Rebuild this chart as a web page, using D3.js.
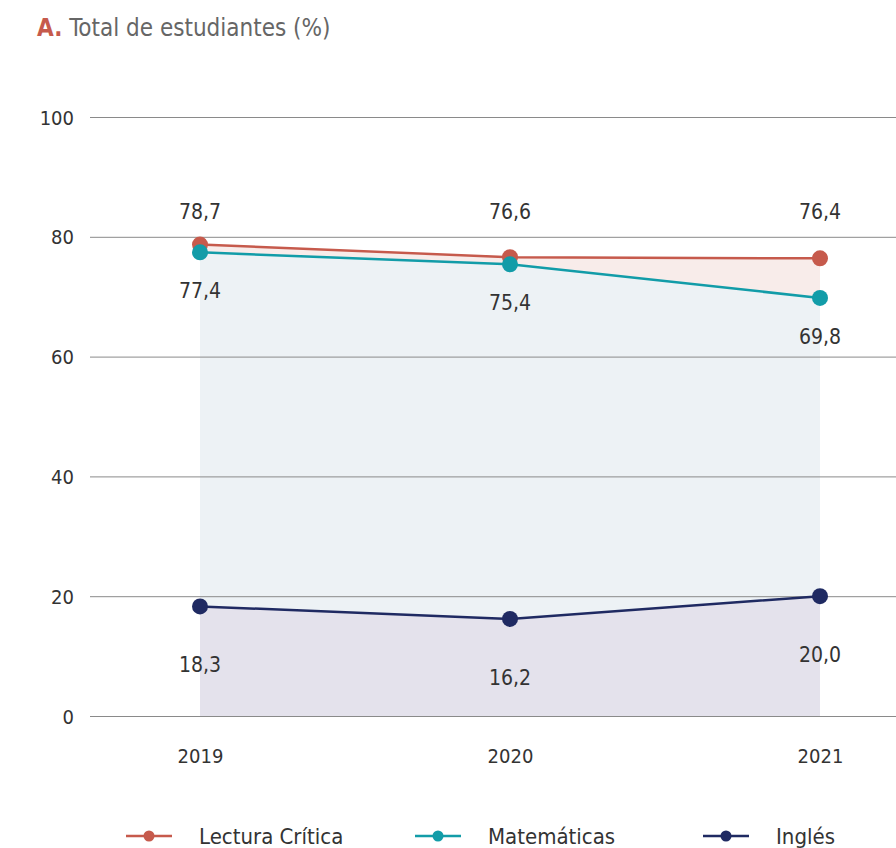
<html>
<head>
<meta charset="utf-8">
<style>
  body { margin:0; background:#fff; }
  text { font-family:'Liberation Sans Narrow','DejaVu Sans Condensed','Roboto',sans-serif; }
</style>
</head>
<body>
<div id="chart"></div>
<script src="https://cdn.jsdelivr.net/npm/d3@7/dist/d3.min.js"></script>
<script>
// data
var years = ["2019", "2020", "2021"];
var lectura = [78.7, 76.6, 76.4];
var matematicas = [77.4, 75.4, 69.8];
var ingles = [18.3, 16.2, 20.0];
var yTicks = [0, 20, 40, 60, 80, 100];
var seriesNames = ["Lectura Crítica", "Matemáticas", "Inglés"];

var W = 896, H = 848;
var colors = ["#c65a4c", "#129ca8", "#1f2a62"];
var fills = ["#f8ecea", "#edf2f5", "#e4e2ec"];

var svg = d3.select("#chart").append("svg")
    .attr("width", W).attr("height", H);

var x = d3.scalePoint().domain(years).range([200, 820]);
var y = d3.scaleLinear().domain([0, 100]).range([716, 117]);

// title
var title = svg.append("text").attr("x", 37).attr("y", 36)
    .style("font-size", "24px").attr("fill", "#666");
title.append("tspan").text("A.").attr("fill", "#c65a4c").style("font-weight", "bold");
title.append("tspan").text(" Total de estudiantes (%)");

// areas
function areaBetween(top, bottom) {
    return d3.area()
        .x(function(d, i) { return x(years[i]); })
        .y0(function(d, i) { return y(bottom ? bottom[i] : 0); })
        .y1(function(d, i) { return y(top[i]); })(top);
}
svg.append("path").attr("d", areaBetween(lectura, matematicas)).attr("fill", fills[0]);
svg.append("path").attr("d", areaBetween(matematicas, ingles)).attr("fill", fills[1]);
svg.append("path").attr("d", areaBetween(ingles, null)).attr("fill", fills[2]);

// grid + y axis
var yAxis = d3.axisLeft(y).tickValues(yTicks).tickSize(-(W - 90)).tickPadding(16);
var ga = svg.append("g").attr("transform", "translate(90,0)").call(yAxis);
ga.select(".domain").remove();
ga.selectAll(".tick line").attr("stroke", "#8a8a8a").attr("stroke-width", 1);
ga.selectAll(".tick text").attr("fill", "#333").style("font-size", "20px")
    .attr("font-family", null).attr("dy", "0.35em");

// x axis labels
var xAxis = d3.axisBottom(x).tickSize(0).tickPadding(33);
var gx = svg.append("g").attr("transform", "translate(0,716)").call(xAxis);
gx.select(".domain").remove();
gx.selectAll(".tick text").attr("fill", "#333").style("font-size", "20px")
    .attr("font-family", null);

// lines + points
var all = [lectura, matematicas, ingles];
var line = d3.line().x(function(d, i) { return x(years[i]); }).y(function(d) { return y(d); });
// lectura labels share one row above the highest point; others sit below their point
function labelY(k, d) {
    if (k === 0) return y(d3.max(lectura)) - 26;
    if (k === 1) return y(d) + 46;
    return y(d) + 66;
}
all.forEach(function(s, k) {
    svg.append("path").attr("d", line(s)).attr("fill", "none")
        .attr("stroke", colors[k]).attr("stroke-width", 2.5);
    svg.selectAll(".pt" + k).data(s).enter().append("circle")
        .attr("cx", function(d, i) { return x(years[i]); })
        .attr("cy", function(d) { return y(d); })
        .attr("r", 8).attr("fill", colors[k]);
    svg.selectAll(".lb" + k).data(s).enter().append("text")
        .attr("x", function(d, i) { return x(years[i]); })
        .attr("y", function(d) { return labelY(k, d); })
        .attr("text-anchor", "middle").attr("fill", "#333")
        .style("font-size", "21px")
        .text(function(d) { return d.toFixed(1).replace(".", ","); });
});

// legend
var legX = [126, 415, 703];
var leg = svg.append("g").attr("transform", "translate(0,836)");
seriesNames.forEach(function(n, k) {
    leg.append("line").attr("x1", legX[k]).attr("x2", legX[k] + 46)
        .attr("stroke", colors[k]).attr("stroke-width", 2.5);
    leg.append("circle").attr("cx", legX[k] + 23).attr("r", 5.5).attr("fill", colors[k]);
    leg.append("text").attr("x", legX[k] + 73).attr("dy", "0.35em")
        .attr("fill", "#333").style("font-size", "22px").text(n);
});
</script>
</body>
</html>
